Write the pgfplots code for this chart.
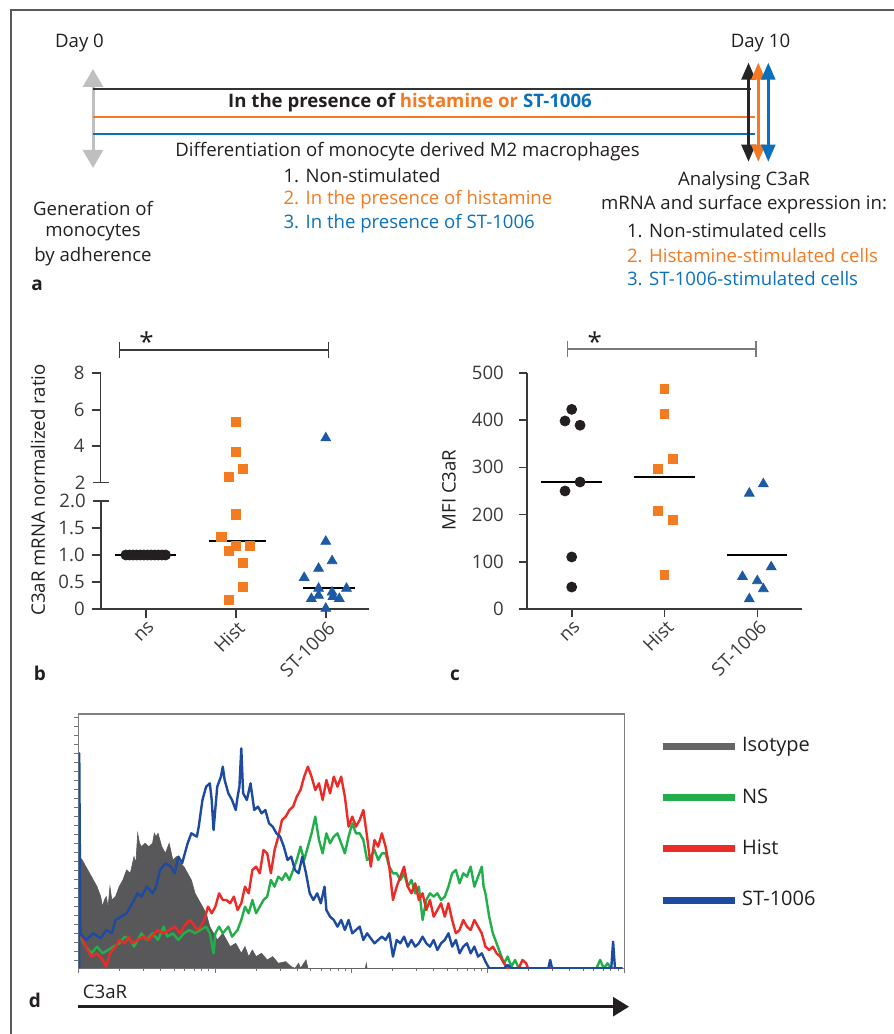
\documentclass[border=0pt]{standalone}
\usepackage{fontspec}
\setmainfont{Open Sans}
\usepackage{pgfplots}
\pgfplotsset{compat=1.18}
\usetikzlibrary{arrows.meta}
\definecolor{txt}{HTML}{231F20}
\definecolor{axgray}{HTML}{3A3A3A}
\definecolor{dotblack}{HTML}{231F20}
\definecolor{sqorange}{HTML}{F47B20}
\definecolor{triblue}{HTML}{1C5AA6}
\definecolor{aorange}{HTML}{F47920}
\definecolor{ablue}{HTML}{0A70BE}
\definecolor{hgray}{HTML}{58585A}
\definecolor{hgreen}{HTML}{21AE4B}
\definecolor{hred}{HTML}{EC2A26}
\definecolor{hblue}{HTML}{1D4BA0}
\definecolor{brgray}{HTML}{7A7A7A}
\pgfplotsset{
  dotaxis/.style={
    scale only axis, clip=false,
    axis x line*=bottom, axis y line*=left,
    axis line style={line width=0.8pt, color=axgray},
    tick style={line width=0.8pt, color=axgray},
    tick align=outside,
    tick label style={font=\fontsize{9.3}{11}\selectfont, text=axgray},
    /pgf/number format/assume math mode=true,
    xtick={0,1,2}, xticklabels={ns,Hist,ST-1006},
    xticklabel style={rotate=45, anchor=east, xshift=3pt, yshift=-4.5pt},
  },
  medline/.style={black, line width=1pt, no marks, forget plot},
}
\begin{document}
\begin{tikzpicture}[font=\fontsize{9.3}{11}\selectfont]
\path[use as bounding box] (0pt,0pt) rectangle (447pt,517pt);
\begin{scope}[x=0.5pt,y=-0.5pt,yshift=517pt]
% frame
\draw[color=black!65, line width=1pt] (11,1040) -- (11,10) -- (900,10);
% ---------------- panel a (schematic) ----------------
\node[text=txt] at (79.5,43) {Day 0};
\node[text=txt] at (760.5,43) {Day 10};
\draw[color=black!25, line width=1.5pt, {Triangle[width=10pt,length=9pt]}-{Triangle[width=10pt,length=9pt]}] (93,69) -- (93,168);
\draw[color=black!80, line width=1pt] (93,89) -- (751,89);
\draw[color=aorange, line width=1pt] (93,116.7) -- (755,116.7);
\draw[color=ablue, line width=1pt] (93,134) -- (755,134);
\draw[color=black!85, line width=1.3pt, {Triangle[width=7pt,length=8.5pt]}-{Triangle[width=7pt,length=8.5pt]}] (748.5,62.7) -- (748.5,161.7);
\draw[color=aorange, line width=1.2pt, {Triangle[width=7pt,length=8.5pt]}-{Triangle[width=7pt,length=8.5pt]}] (758.3,62.7) -- (758.3,161.7);
\draw[color=ablue, line width=1.2pt, {Triangle[width=7pt,length=8.5pt]}-{Triangle[width=7pt,length=8.5pt]}] (768.3,62.7) -- (768.3,161.7);
\node[text=txt, font=\fontsize{9.3}{11}\selectfont\bfseries] at (410,103) {In the presence of \textcolor{aorange}{histamine or} \textcolor{ablue}{ST-1006}};
\node[text=txt] at (407.6,151.7) {Differentiation of monocyte derived M2 macrophages};
\node[text=txt, anchor=west] at (276.5,176) {1. Non-stimulated};
\node[text=aorange, anchor=west] at (276.5,200) {2. In the presence of histamine};
\node[text=ablue, anchor=west] at (276.5,224) {3. In the presence of ST-1006};
\node[text=txt] at (93,208) {Generation of};
\node[text=txt] at (93,233) {monocytes};
\node[text=txt] at (93,257) {by adherence};
\node[text=txt, font=\fontsize{9.5}{11}\selectfont\bfseries] at (37,285) {a};
\node[text=txt] at (744,181) {Analysing C3aR};
\node[text=txt] at (744,205) {mRNA and surface expression in:};
\node[text=txt, anchor=west] at (620,231) {1. Non-stimulated cells};
\node[text=aorange, anchor=west] at (620,256) {2. Histamine-stimulated cells};
\node[text=ablue, anchor=west] at (620,279) {3. ST-1006-stimulated cells};
\node[rotate=90, text=txt] at (38,490) {C3aR mRNA normalized ratio};
\node[text=txt, font=\fontsize{9.5}{11}\selectfont\bfseries] at (40,673) {b};
\node[rotate=90, text=txt] at (449,490) {MFI C3aR};
\node[text=txt, font=\fontsize{9.5}{11}\selectfont\bfseries] at (455,675) {c};
\node[text=txt] at (105,992) {C3aR};
\node[text=txt, font=\fontsize{9.5}{11}\selectfont\bfseries] at (35,1000) {d};
\draw[color=txt, line width=1.3pt, -{Triangle[width=9.5pt,length=8pt]}] (78,1006.7) -- (629,1006.7);
\end{scope}
% ---------------- panel b ----------------
\begin{axis}[dotaxis, at={(50.35pt,275.65pt)}, anchor=south west,
  width=134.15pt, height=54.7pt,
  xmin=-0.5, xmax=2.48, ymin=2, ymax=8,
  axis x line=none, major tick length=4.5pt,
  ytick={4,6,8}, extra y ticks={2},
  extra y tick style={tick align=center, major tick length=8pt}]
\addplot[only marks, mark=square*, mark size=2.3pt, color=sqorange] coordinates {(0.92,2.33) (1.08,2.75) (1,3.69) (1,5.35)};
\addplot[only marks, mark=triangle*, mark size=2.8pt, color=triblue] coordinates {(2,4.45)};
\addplot[color=axgray, line width=0.75pt, no marks] coordinates {(-0.293,9.72) (-0.293,8.84)};
\addplot[color=axgray, line width=0.75pt, no marks] coordinates {(-0.293,9.28) (2.03,9.28)};
\addplot[color=axgray, line width=0.75pt, no marks] coordinates {(2.03,9.72) (2.03,8.84)};
\node[font=\fontsize{13}{13}\selectfont, text=txt] at (axis cs:0.01,9.75) {*};
\end{axis}
\begin{axis}[dotaxis, at={(50.35pt,212.5pt)}, anchor=south west,
  width=134.15pt, height=54pt,
  xmin=-0.5, xmax=2.48, ymin=0, ymax=2, major tick length=4.5pt,
  ytick={0,0.5,1,1.5}, yticklabels={0,0.5,1.0,1.5},
  extra y ticks={2}, extra y tick labels={2.0},
  extra y tick style={tick align=center, major tick length=8pt}]
\addplot[only marks, mark=*, mark size=2.5pt, color=dotblack] coordinates {(-0.22,1) (-0.18,1) (-0.14,1) (-0.10,1) (-0.06,1) (-0.02,1) (0.02,1) (0.06,1) (0.10,1) (0.14,1) (0.18,1) (0.22,1)};
\addplot[medline] coordinates {(-0.34,1) (0.34,1)};
\addplot[only marks, mark=square*, mark size=2.3pt, color=sqorange] coordinates {(0.84,1.34) (0.92,1.08) (1,1.17) (1.16,1.17) (1.08,0.86) (1.08,0.41) (0.92,0.17) (1,1.75)};
\addplot[medline] coordinates {(0.70,1.25) (1.34,1.25)};
\addplot[only marks, mark=triangle*, mark size=2.8pt, color=triblue] coordinates {(2,1.25) (2.07,0.89) (1.92,0.75) (1.76,0.58) (1.92,0.38) (1.92,0.25) (1.84,0.19) (2.07,0.31) (2.08,0.23) (2.15,0.19) (2.23,0.38) (2,0.01)};
\addplot[medline] coordinates {(1.75,0.38) (2.33,0.38)};
\end{axis}
% ---------------- panel c ----------------
\begin{axis}[dotaxis, at={(263.35pt,212.35pt)}, anchor=south west,
  width=137.8pt, height=118.3pt,
  xmin=-0.485, xmax=2.485, ymin=0, ymax=500, major tick length=3.9pt,
  ytick={0,100,200,300,400,500}, yticklabel style={xshift=-4pt}]
\addplot[only marks, mark=*, mark size=2.5pt, color=dotblack] coordinates {(0,422.5) (-0.072,398) (0.09,389) (0.09,269) (-0.072,250) (0,110.6) (0,47)};
\addplot[medline] coordinates {(-0.33,269) (0.33,269)};
\addplot[only marks, mark=square*, mark size=2.1pt, color=sqorange] coordinates {(1,465.5) (1,412.7) (1.09,317.6) (0.93,296.5) (0.93,207.7) (1.09,188.7) (1,72.5)};
\addplot[medline] coordinates {(0.67,279.6) (1.33,279.6)};
\addplot[only marks, mark=triangle*, mark size=2.8pt, color=triblue] coordinates {(2.065,264.8) (1.914,245) (2.15,89.4) (1.84,69) (2,60) (2.065,43) (1.914,21.8)};
\addplot[medline] coordinates {(1.67,114.8) (2.32,114.8)};
\addplot[color=brgray, line width=0.75pt, no marks] coordinates {(-0.043,567.5) (-0.043,532.4)};
\addplot[color=brgray, line width=0.75pt, no marks] coordinates {(-0.043,550) (1.986,550)};
\addplot[color=brgray, line width=0.75pt, no marks] coordinates {(1.986,567.5) (1.986,532.4)};
\node[font=\fontsize{13}{13}\selectfont, text=txt] at (axis cs:0.25,565) {*};
\end{axis}
% ---------------- panel d ----------------
\begin{axis}[at={(39.25pt,32.85pt)}, anchor=south west, scale only axis,
  width=272.85pt, height=127.15pt,
  xmin=50, xmax=1525, ymin=42, ymax=805, y dir=reverse,
  axis line style={color=black!50, line width=0.6pt},
  tick align=outside, tick style={color=black!55, line width=0.4pt},
  major tick length=2.5pt, minor tick length=1.5pt,
  xtick={50,419,788,1156,1525},
  minor xtick={161,226,272,308,337,362,383,402,530,595,641,677,706,731,752,771,899,964,1010,1046,1075,1100,1121,1140,1267,1332,1378,1414,1443,1468,1489,1508},
  ytick={52,79,...,790},
  xticklabels={}, yticklabels={},
  xtick pos=left, ytick pos=left,
  legend image code/.code={\draw[#1] (0pt,0pt) -- (36pt,0pt);},
  legend style={draw=none, fill=none, at={(axis description cs:1.0632,0.925)}, anchor=north west,
    inner sep=0pt, row sep=12.9pt, cells={anchor=west},
    font=\fontsize{10}{12}\selectfont, text=txt,
    /tikz/every even column/.append style={column sep=4pt}},
]
\addplot[fill=hgray, draw=hgray, line width=0.3pt, forget plot] coordinates {(52,805) (52,470) (60,480) (70,500) (80,520) (90,540) (100,560) (110,590) (115,620) (120,600) (125,590) (130,620) (135,560) (140,600) (150,590) (160,560) (170,540) (180,510) (190,520) (200,470) (205,490) (210,400) (215,430) (220,440) (230,430) (240,440) (250,430) (255,400) (260,410) (265,400) (270,420) (275,440) (285,460) (295,430) (305,480) (315,470) (325,490) (335,500) (345,520) (355,540) (365,580) (375,600) (385,620) (395,640) (405,680) (415,700) (425,720) (440,700) (450,720) (460,740) (475,730) (490,760) (500,740) (510,770) (520,750) (530,770) (545,760) (560,780) (575,770) (590,790) (610,785) (625,800) (635,805) (645,790) (650,805) (665,780) (670,805) (825,805) (828,790) (830,805) (1520,805)};
\addplot[hgreen, line width=1.2pt, line join=round, forget plot] coordinates {(55,710) (70,740) (85,760) (100,740) (115,760) (130,750) (145,740) (160,730) (175,710) (190,720) (200,740) (210,720) (220,700) (235,720) (250,700) (265,720) (280,680) (290,710) (305,700) (320,720) (335,700) (350,690) (365,700) (380,690) (395,680) (405,700) (415,760) (420,700) (430,680) (440,700) (455,680) (465,710) (480,690) (490,660) (500,620) (510,640) (520,600) (530,640) (540,620) (550,600) (560,590) (570,540) (580,560) (590,530) (600,540) (610,520) (620,540) (630,510) (640,480) (650,440) (660,480) (670,440) (680,400) (690,350) (700,420) (710,460) (720,400) (730,430) (740,410) (750,400) (760,430) (770,460) (780,410) (790,370) (800,400) (810,400) (820,420) (830,480) (840,470) (850,450) (860,480) (870,460) (880,460) (890,500) (900,520) (910,520) (920,540) (930,520) (940,560) (950,540) (960,580) (970,560) (980,660) (990,600) (1000,580) (1010,590) (1020,580) (1030,600) (1040,590) (1050,560) (1060,520) (1070,510) (1080,550) (1090,520) (1100,530) (1110,500) (1120,560) (1130,530) (1140,500) (1145,560) (1150,580) (1160,650) (1170,700) (1180,730) (1190,760) (1200,790) (1210,770) (1220,800) (1230,780) (1240,805) (1450,805) (1460,780) (1470,805) (1480,790) (1490,805) (1520,805)};
\addplot[hred, line width=1.2pt, line join=round, forget plot] coordinates {(55,700) (70,740) (85,770) (100,760) (115,780) (125,800) (135,760) (150,740) (160,720) (175,730) (185,710) (195,730) (210,720) (225,710) (240,720) (255,700) (265,690) (280,700) (295,690) (310,680) (325,700) (335,680) (350,660) (360,670) (370,690) (380,680) (390,660) (400,620) (410,640) (420,620) (430,580) (440,600) (450,600) (460,610) (470,590) (480,630) (490,610) (500,560) (510,580) (520,510) (530,500) (540,520) (550,450) (560,460) (570,520) (580,450) (590,410) (600,360) (610,350) (620,330) (630,320) (640,290) (650,270) (660,230) (670,200) (680,230) (690,270) (700,250) (710,300) (720,240) (730,280) (740,230) (750,260) (760,230) (770,290) (780,380) (790,350) (800,380) (810,360) (820,330) (830,410) (840,500) (850,420) (860,440) (870,400) (880,440) (890,500) (900,600) (910,560) (920,530) (930,500) (940,560) (950,580) (960,550) (970,600) (980,580) (990,630) (1000,600) (1010,650) (1020,630) (1030,610) (1040,650) (1050,610) (1060,660) (1070,700) (1080,690) (1090,660) (1100,680) (1110,690) (1120,660) (1130,680) (1140,700) (1150,740) (1160,750) (1170,740) (1180,760) (1190,770) (1200,790) (1210,805) (1240,805) (1250,780) (1260,790) (1265,805) (1520,805)};
\addplot[hblue, line width=1.2pt, line join=round, forget plot] coordinates {(52,805) (52,160) (55,700) (70,720) (90,700) (110,715) (125,690) (140,700) (150,660) (165,650) (180,640) (190,620) (200,600) (210,580) (220,590) (235,560) (250,580) (260,560) (270,510) (285,490) (300,500) (310,520) (320,470) (330,490) (345,430) (355,400) (370,410) (375,380) (385,300) (395,260) (405,250) (410,300) (415,390) (425,260) (435,230) (440,200) (445,240) (455,280) (465,300) (475,330) (480,290) (485,260) (490,145) (495,280) (505,300) (515,250) (525,330) (535,320) (545,340) (555,330) (565,370) (575,380) (585,400) (595,410) (605,440) (615,480) (625,470) (635,510) (645,520) (655,470) (665,520) (675,580) (685,600) (695,580) (705,610) (715,560) (720,630) (730,650) (740,660) (750,680) (760,660) (770,690) (780,660) (790,700) (800,690) (810,680) (820,720) (830,700) (840,715) (850,730) (860,720) (870,710) (880,720) (890,700) (900,770) (910,720) (920,730) (930,710) (940,740) (950,720) (960,740) (970,730) (980,710) (990,730) (1000,740) (1010,720) (1020,750) (1030,730) (1040,720) (1050,700) (1060,740) (1070,720) (1080,760) (1090,740) (1100,730) (1110,760) (1120,740) (1130,770) (1140,760) (1150,785) (1160,805) (1200,805) (1210,795) (1220,805) (1320,805) (1325,780) (1330,805) (1490,805) (1495,725) (1500,805) (1520,805)};
\addlegendimage{color=black!60, line width=3.5pt}
\addlegendentry{Isotype}
\addlegendimage{color=hgreen, line width=3.5pt}
\addlegendentry{NS}
\addlegendimage{color=hred, line width=3.5pt}
\addlegendentry{Hist}
\addlegendimage{color=hblue, line width=3.5pt}
\addlegendentry{ST-1006}
\end{axis}
\end{tikzpicture}
\end{document}
